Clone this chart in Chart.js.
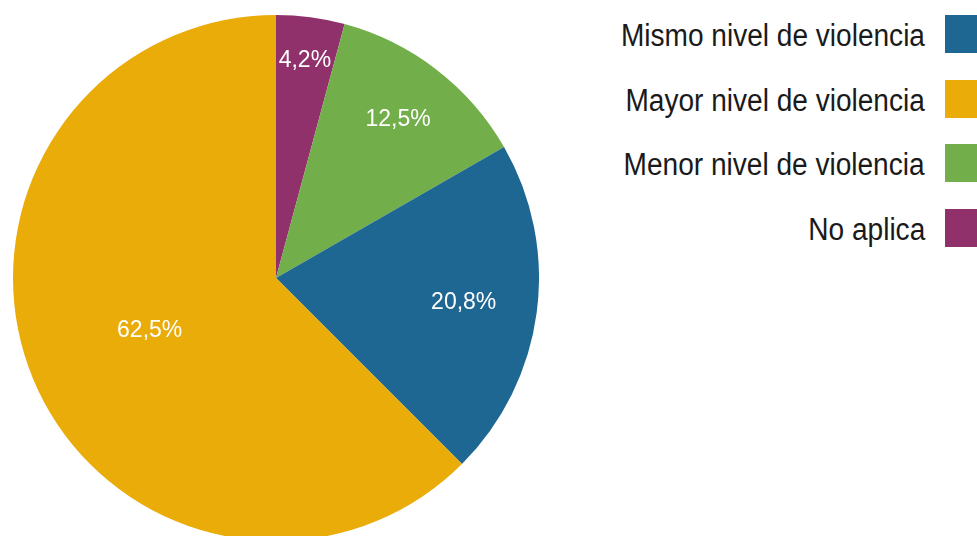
<!DOCTYPE html>
<html>
<head>
<meta charset="utf-8">
<script src="https://cdn.jsdelivr.net/npm/chart.js@4"></script>
<style>
  html, body { margin: 0; padding: 0; background: #fff; overflow: hidden; }
  #wrap { position: relative; width: 977px; height: 536px; }
  #pieBox { position: absolute; left: 13px; top: 15px; width: 526px; height: 526px; }
  #legend { position: absolute; left: 560px; top: 15px; width: 420px; }
  .item { position: relative; height: 38px; margin-bottom: 26.5px; }
  .item span.txt {
    position: absolute; right: 55px; top: 50%;
    display: inline-block; transform-origin: right center;
    transform: translateY(-45%) scaleX(0.905);
    font-family: "Liberation Sans", Arial, sans-serif;
    font-size: 31px; line-height: 38px; color: #1a1a1a; white-space: nowrap;
  }
  .item span.box { position: absolute; left: 385px; top: 0; width: 36px; height: 38px; }
</style>
</head>
<body>
<div id="wrap">
  <div id="pieBox"><canvas id="PieChart"></canvas></div>
  <div id="legend"></div>
</div>
<script>
// legend order
const categories = ["Mismo nivel de violencia", "Mayor nivel de violencia", "Menor nivel de violencia", "No aplica"];
const values = [20.8, 62.5, 12.5, 4.2];
const colors = ["#1e6792", "#eaac08", "#72ae4a", "#91316b"];
// order of slices clockwise from 12 o'clock
const sliceOrder = [3, 2, 0, 1];

document.addEventListener("DOMContentLoaded", () => {
  // html legend
  const legend = document.getElementById("legend");
  categories.forEach((c, i) => {
    const row = document.createElement("div");
    row.className = "item";
    row.innerHTML = '<span class="txt"></span><span class="box"></span>';
    row.querySelector(".txt").textContent = c;
    row.querySelector(".box").style.background = colors[i];
    legend.appendChild(row);
  });

  // percent labels inside slices
  const sliceLabels = {
    id: "sliceLabels",
    afterDatasetsDraw(chart, args, opts) {
      const ctx = chart.ctx;
      const meta = chart.getDatasetMeta(0);
      ctx.save();
      ctx.fillStyle = "#fff";
      ctx.font = "23px 'Liberation Sans', Arial, sans-serif";
      ctx.textAlign = "center";
      ctx.textBaseline = "middle";
      meta.data.forEach((arc, i) => {
        const p = arc.getProps(["x", "y", "startAngle", "endAngle", "outerRadius"], true);
        const mid = (p.startAngle + p.endAngle) / 2;
        const r = p.outerRadius * opts.radius[i];
        const v = chart.data.datasets[0].data[i];
        ctx.fillText(v.toFixed(1).replace(".", ",") + "%", p.x + Math.cos(mid) * r, p.y + Math.sin(mid) * r);
      });
      ctx.restore();
    }
  };

  const ctx = document.getElementById("PieChart").getContext("2d");
  new Chart(ctx, {
    type: "pie",
    data: {
      labels: sliceOrder.map(i => categories[i]),
      datasets: [
        {
          data: sliceOrder.map(i => values[i]),
          backgroundColor: sliceOrder.map(i => colors[i]),
          borderWidth: 0,
        },
      ],
    },
    options: {
      responsive: true,
      maintainAspectRatio: false,
      animation: false,
      layout: { padding: 0 },
      plugins: {
        legend: { display: false },
        tooltip: { enabled: false },
        sliceLabels: { radius: [0.835, 0.76, 0.72, 0.52] },
      },
    },
    plugins: [sliceLabels],
  });
});
</script>
</body>
</html>
